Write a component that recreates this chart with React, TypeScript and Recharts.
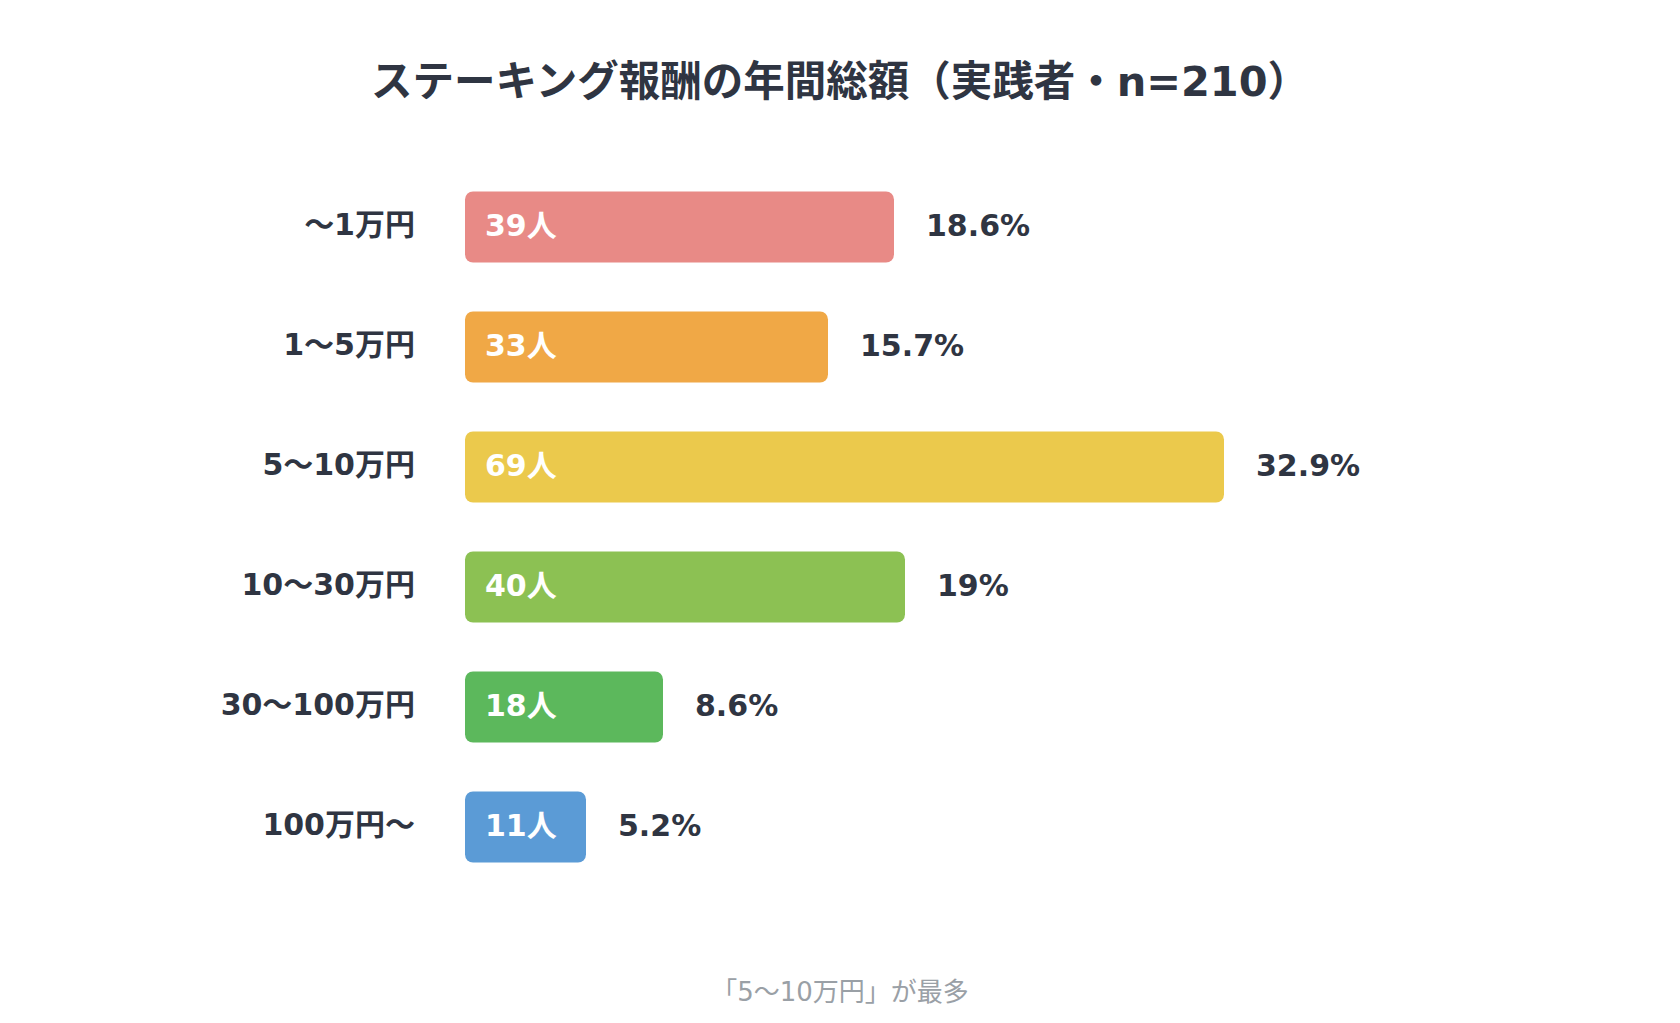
import React from 'react';
import { BarChart, Bar, XAxis, YAxis, Cell, LabelList } from 'recharts';

const categories = ['〜1万円', '1〜5万円', '5〜10万円', '10〜30万円', '30〜100万円', '100万円〜'];
const counts = [39, 33, 69, 40, 18, 11];
const percents = ['18.6%', '15.7%', '32.9%', '19%', '8.6%', '5.2%'];
const colors = ['#E88A86', '#F0A846', '#EBC94C', '#8CC153', '#5CB85C', '#5B9BD6'];

const title = 'ステーキング報酬の年間総額（実践者・n=210）';
const footnote = '「5〜10万円」が最多';

const data = categories.map((c, i) => ({ name: c, count: counts[i], pct: percents[i] }));

const FONT = "'DejaVu Sans', 'Noto Sans CJK JP', sans-serif";
const DARK = '#2F3542';

export default function App() {
  return (
    <div style={{ position: 'absolute', left: 0, top: 0, width: 1680, height: 1023, background: '#fff', fontFamily: FONT }}>
      <div style={{ position: 'absolute', left: 0, top: 59, width: 1680, textAlign: 'center', fontSize: 41.5, lineHeight: '46px', fontWeight: 700, color: DARK }}>
        {title}
      </div>
      <BarChart
        width={1680}
        height={1023}
        data={data}
        layout="vertical"
        margin={{ top: 166.5, right: 115, bottom: 136.5, left: 0 }}
        barSize={71}
      >
        <XAxis type="number" domain={[0, 100]} hide />
        <YAxis
          type="category"
          dataKey="name"
          width={465}
          axisLine={false}
          tickLine={false}
          tickSize={0}
          tickMargin={50}
          tick={{ fill: DARK, fontSize: 30, fontWeight: 700, fontFamily: FONT, dy: -2 }}
        />
        <Bar dataKey="count" radius={8} isAnimationActive={false}>
          {data.map((d, i) => (
            <Cell key={d.name} fill={colors[i]} />
          ))}
          <LabelList
            dataKey="count"
            position="insideLeft"
            offset={20}
            dy={-2}
            formatter={(v: number) => `${v}人`}
            style={{ fill: '#fff', fontSize: 30, fontWeight: 700, fontFamily: FONT }}
          />
          <LabelList
            dataKey="pct"
            position="right"
            offset={32}
            dy={-2}
            style={{ fill: DARK, fontSize: 30, fontWeight: 700, fontFamily: FONT }}
          />
        </Bar>
      </BarChart>
      <div style={{ position: 'absolute', left: 0, top: 977, width: 1680, textAlign: 'center', fontSize: 26, lineHeight: '30px', color: '#9AA0A6' }}>
        {footnote}
      </div>
    </div>
  );
}
